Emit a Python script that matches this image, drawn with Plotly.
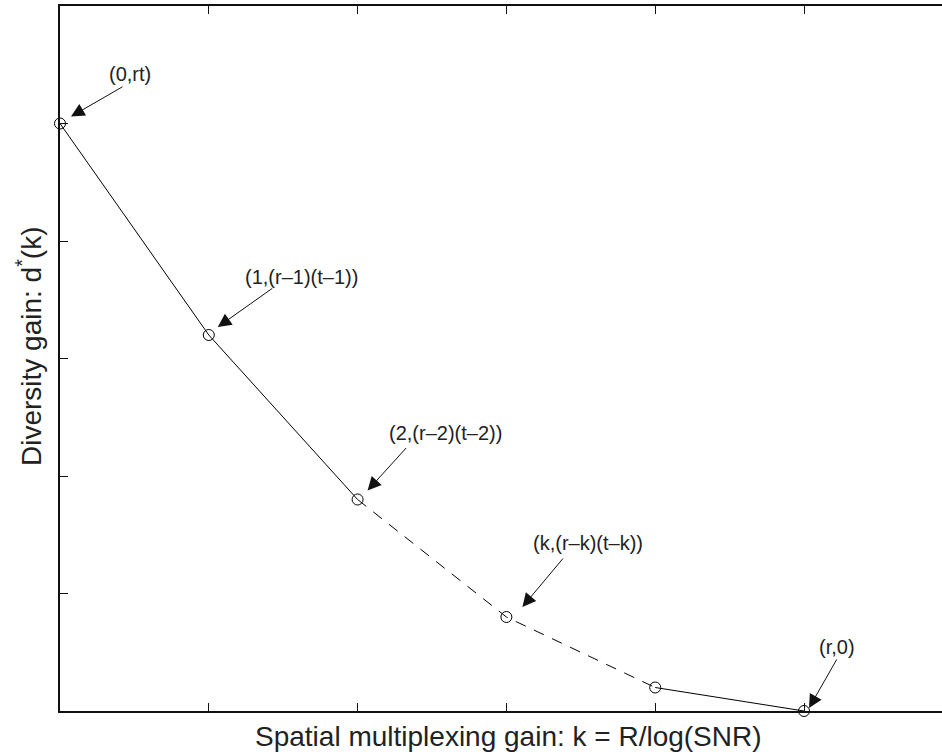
import plotly.graph_objects as go

# Data
k_vals = [0, 1, 2, 3, 4, 5]
d_vals = [5.0, 3.2, 1.8, 0.8, 0.2, 0.0]

# Corner-point labels (index into the point arrays)
label_idx = [0, 1, 2, 3, 5]
label_txt = ["(0,rt)", "(1,(r–1)(t–1))", "(2,(r–2)(t–2))", "(k,(r–k)(t–k))", "(r,0)"]
# pixel offsets: text centre relative to point, arrow head relative to point, arrow tail relative to head
text_off = [(70, -50), (93, -58), (88, -67), (82, -74), (33, -64)]
head_off = [(11, -7), (9, -8), (10, -9), (16, -10), (5, -3)]
tail_off = [(52, -30), (55, -39), (39, -43), (41, -49), (28, -49)]

FONT = "Liberation Sans, Arial, Helvetica, sans-serif"

fig = go.Figure()
line_style = dict(color="black", width=1)
fig.add_trace(go.Scatter(x=k_vals[0:3], y=d_vals[0:3], mode="lines", line=line_style, showlegend=False))
fig.add_trace(go.Scatter(x=k_vals[2:5], y=d_vals[2:5], mode="lines",
                         line=dict(color="black", width=1, dash="11px,9px"), showlegend=False))
fig.add_trace(go.Scatter(x=k_vals[4:6], y=d_vals[4:6], mode="lines", line=line_style, showlegend=False))
fig.add_trace(go.Scatter(x=k_vals, y=d_vals, mode="markers",
                         marker=dict(symbol="circle-open", size=11, color="black", line=dict(width=1)),
                         showlegend=False, cliponaxis=False))

annotations = []
for i, txt, to, ho, tl in zip(label_idx, label_txt, text_off, head_off, tail_off):
    annotations.append(dict(x=k_vals[i], y=d_vals[i], xref="x", yref="y", text=txt,
                            showarrow=False, xshift=to[0], yshift=-to[1],
                            xanchor="center", yanchor="middle",
                            font=dict(family=FONT, size=20, color="#222")))
    annotations.append(dict(x=k_vals[i], y=d_vals[i], xref="x", yref="y", text="",
                            showarrow=True, xshift=ho[0], yshift=-ho[1],
                            ax=tl[0], ay=tl[1], arrowhead=2, arrowsize=2.7, arrowwidth=1,
                            arrowcolor="#111", standoff=0, startstandoff=0, borderpad=0))

annotations.append(dict(x=(508 - 60) / 882, y=(711 - 736) / 705, xref="paper", yref="paper",
                        text="Spatial multiplexing gain: k = R/log(SNR)", showarrow=False,
                        xanchor="center", yanchor="middle",
                        font=dict(family=FONT, size=28, color="#222")))
annotations.append(dict(x=(29 - 60) / 882, y=(711 - 347) / 705, xref="paper", yref="paper",
                        text="Diversity gain: d<sup>*</sup>(k)", showarrow=False, textangle=-90,
                        xanchor="center", yanchor="middle",
                        font=dict(family=FONT, size=28, color="#222")))

fig.update_layout(
    width=942, height=755,
    margin=dict(l=60, r=0, t=6, b=44),
    paper_bgcolor="white", plot_bgcolor="white",
    annotations=annotations,
    xaxis=dict(range=[0, 882 / 148.8], showgrid=False, zeroline=False,
               showline=True, linecolor="#111", linewidth=2, mirror="ticks",
               ticks="inside", ticklen=8, tickwidth=1, tickcolor="#111",
               tickvals=k_vals, showticklabels=False),
    yaxis=dict(range=[0, 6], showgrid=False, zeroline=False,
               showline=True, linecolor="#111", linewidth=2, mirror=False,
               ticks="inside", ticklen=8, tickwidth=1, tickcolor="#111",
               tickvals=[0, 1, 2, 3, 4, 5], showticklabels=False),
)

fig.write_html("out.html")
